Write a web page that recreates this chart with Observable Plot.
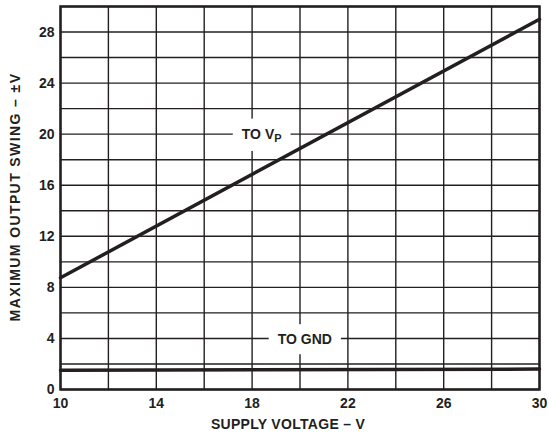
<!DOCTYPE html>
<html>
<head>
<meta charset="utf-8">
<script src="https://cdn.jsdelivr.net/npm/d3@7"></script>
<script src="https://cdn.jsdelivr.net/npm/@observablehq/plot@0.6"></script>
<style>
  html, body { margin: 0; padding: 0; background: #fff; }
</style>
</head>
<body>
<div id="chart"></div>
<script>
// Data
const supplyVoltage = [10, 30];
const swingToVp = [8.75, 29.0];
const swingToGnd = [1.5, 1.6];
const xTicks = [10, 14, 18, 22, 26, 30];
const yTicks = [0, 4, 8, 12, 16, 20, 24, 28];
const xGrid = [10, 12, 14, 16, 18, 20, 22, 24, 26, 28, 30];
const yGrid = [0, 2, 4, 6, 8, 10, 12, 14, 16, 18, 20, 22, 24, 26, 28, 30];
const labelText = ["TO VP", "TO GND"];
const labelX = [18.4, 20.2];
const labelY = [20, 3.9];

const vpData = supplyVoltage.map((v, i) => ({x: v, y: swingToVp[i]}));
const gndData = supplyVoltage.map((v, i) => ({x: v, y: swingToGnd[i]}));
const labels = labelText.map((t, i) => ({text: t, x: labelX[i], y: labelY[i]}));

const ink = "#231f20";

const plot = Plot.plot({
  width: 548,
  height: 436,
  marginLeft: 60,
  marginRight: 9,
  marginTop: 6,
  marginBottom: 47,
  style: {fontFamily: "'Liberation Sans', Arial, sans-serif", fontWeight: "bold", fontSize: "14px", color: ink, background: "#fff"},
  x: {domain: [10, 30]},
  y: {domain: [0, 30]},
  marks: [
    Plot.ruleX(xGrid, {stroke: ink, strokeWidth: 1.4}),
    Plot.ruleY(yGrid, {stroke: ink, strokeWidth: 1.4}),
    Plot.text(labels, {x: "x", y: "y", text: "text", fontSize: 14, fontWeight: "bold", fill: ink, className: "curve-label"}),
    Plot.line(vpData, {x: "x", y: "y", stroke: ink, strokeWidth: 3.5}),
    Plot.line(gndData, {x: "x", y: "y", stroke: ink, strokeWidth: 3.5}),
    Plot.frame({stroke: ink, strokeWidth: 2.5}),
    Plot.axisX(xTicks, {tickSize: 0, tickPadding: 9, label: null, fontSize: 14, fontWeight: "bold", fill: ink}),
    Plot.axisY(yTicks, {tickSize: 0, tickPadding: 6, label: null, fontSize: 14, fontWeight: "bold", fill: ink}),
    Plot.text(["SUPPLY VOLTAGE – V"], {frameAnchor: "bottom", lineAnchor: "middle", textAnchor: "middle", dy: 35, dx: -12, fontSize: 14, fontWeight: "bold", fill: ink, className: "x-title"}),
    Plot.text(["MAXIMUM OUTPUT SWING – ±V"], {frameAnchor: "left", textAnchor: "middle", lineAnchor: "middle", rotate: -90, dx: -45, dy: -1, fontSize: 14, fontWeight: "bold", fill: ink, className: "y-title"})
  ]
});

document.getElementById("chart").appendChild(plot);

// Wider letter spacing on the axis titles, as in the reference
plot.querySelectorAll(".y-title text").forEach(t => t.style.letterSpacing = "1.4px");
plot.querySelectorAll(".x-title text").forEach(t => t.style.letterSpacing = "0.3px");

// Subscript P, and white boxes behind the curve labels (gridlines break there)
const svgNS = "http://www.w3.org/2000/svg";
plot.querySelectorAll(".curve-label text").forEach(t => {
  if (t.textContent === "TO VP") {
    t.textContent = "TO V";
    const sub = document.createElementNS(svgNS, "tspan");
    sub.setAttribute("dy", "0.3em");
    sub.setAttribute("font-size", "11");
    sub.textContent = "P";
    t.appendChild(sub);
  }
  const bb = t.getBBox();
  const r = document.createElementNS(svgNS, "rect");
  const padX = 9, padY = 7;
  r.setAttribute("x", bb.x - padX);
  r.setAttribute("y", bb.y - padY);
  r.setAttribute("width", bb.width + 2 * padX);
  r.setAttribute("height", bb.height + 2 * padY);
  r.setAttribute("fill", "#fff");
  const tr = t.getAttribute("transform");
  if (tr) r.setAttribute("transform", tr);
  t.parentNode.insertBefore(r, t);
});
</script>
</body>
</html>
